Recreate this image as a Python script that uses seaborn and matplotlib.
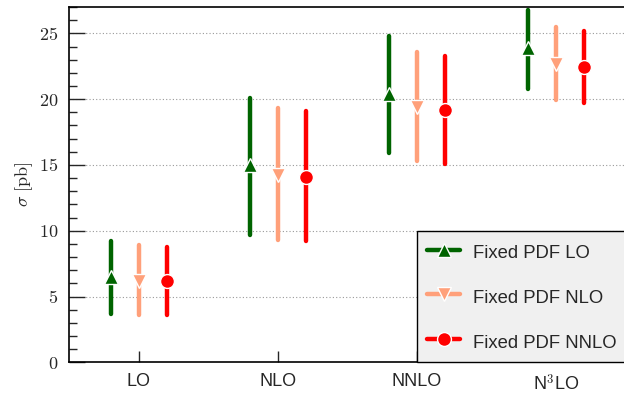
import pandas as pd
import seaborn as sb
import matplotlib.pyplot as plt
from matplotlib.ticker import MultipleLocator, FuncFormatter

orders = ["LO", "NLO", "NNLO", r"N$^3$LO"]
pdfs = ["Fixed PDF LO", "Fixed PDF NLO", "Fixed PDF NNLO"]

# central value, lower edge, upper edge (pb)
lo_pdf_c = [6.5, 15.0, 20.4, 23.9]
lo_pdf_lo = [3.7, 9.7, 15.9, 20.8]
lo_pdf_hi = [9.2, 20.1, 24.8, 26.8]

nlo_pdf_c = [6.2, 14.2, 19.4, 22.7]
nlo_pdf_lo = [3.6, 9.3, 15.3, 19.9]
nlo_pdf_hi = [8.9, 19.3, 23.6, 25.5]

nnlo_pdf_c = [6.2, 14.1, 19.2, 22.45]
nnlo_pdf_lo = [3.6, 9.2, 15.1, 19.7]
nnlo_pdf_hi = [8.8, 19.1, 23.3, 25.2]

colors = ["#006400", "#FFA07A", "#FF0000"]
markers = ["^", "v", "o"]

# long table: three rows per point -> median = centre, 100% interval = band
rows = []
series = [(lo_pdf_c, lo_pdf_lo, lo_pdf_hi), (nlo_pdf_c, nlo_pdf_lo, nlo_pdf_hi),
          (nnlo_pdf_c, nnlo_pdf_lo, nnlo_pdf_hi)]
for pdf, (c, lo, hi) in zip(pdfs, series):
    for i, o in enumerate(orders):
        for v in (lo[i], c[i], hi[i]):
            rows.append({"order": o, "pdf": pdf, "sigma": v})
df = pd.DataFrame(rows)

sb.set_style("ticks")
plt.rcParams['font.family'] = ['Liberation Sans', 'DejaVu Sans']
plt.rcParams['mathtext.fontset'] = 'cm'

fig, ax = plt.subplots(figsize=(6.24, 3.93), dpi=100)
fig.subplots_adjust(left=0.111, right=1.002, top=0.982, bottom=0.078)

sb.pointplot(data=df, x="order", y="sigma", hue="pdf", order=orders, hue_order=pdfs,
             estimator="median", errorbar=("pi", 100), dodge=0.4,
             palette=colors, markers=markers, linestyles="none",
             markersize=10, markeredgecolor="white", markeredgewidth=1.0,
             err_kws={"linewidth": 3.2, "zorder": 2}, ax=ax, legend=False)

for ln in ax.lines:
    if ln.get_marker() not in ("None", None, ""):
        ln.set_zorder(3)

ax.set_xlim(-0.5, 3.5)
ax.set_ylim(0, 27)
ax.set_xlabel("")
ax.set_ylabel(r"$\sigma\ [\mathrm{pb}]$", fontsize=13, labelpad=3)
ax.yaxis.set_major_locator(MultipleLocator(5))
ax.yaxis.set_minor_locator(MultipleLocator(1))
ax.yaxis.set_major_formatter(FuncFormatter(lambda v, p: r"$%d$" % v))
ax.tick_params(axis="y", which="major", direction="in", length=11.5, width=1, labelsize=13, pad=8)
ax.tick_params(axis="y", which="minor", direction="in", length=5.8, width=1)
ax.tick_params(axis="x", direction="in", length=8, width=1, labelsize=13, pad=8)
ax.grid(axis="y", which="major", linestyle=(0, (1, 2)), color="#999999", linewidth=0.8)
for s in ax.spines.values():
    s.set_color("black")
    s.set_linewidth(1.2)

handles = [plt.Line2D([], [], color=c, marker=m, lw=3.2, markersize=10,
                      markeredgecolor="white", markeredgewidth=1.0)
           for c, m in zip(colors, markers)]
leg = ax.legend(handles, pdfs, loc="lower left", bbox_to_anchor=(0.626, 0.0),
                borderaxespad=0, fontsize=13.3, labelspacing=1.27, handleheight=1.4,
                handlelength=1.75, handletextpad=0.7, borderpad=0.55, fancybox=False,
                framealpha=1, facecolor="#f0f0f0", edgecolor="black")
leg.get_frame().set_linewidth(1.0)

fig.savefig("out.png", dpi=100)
